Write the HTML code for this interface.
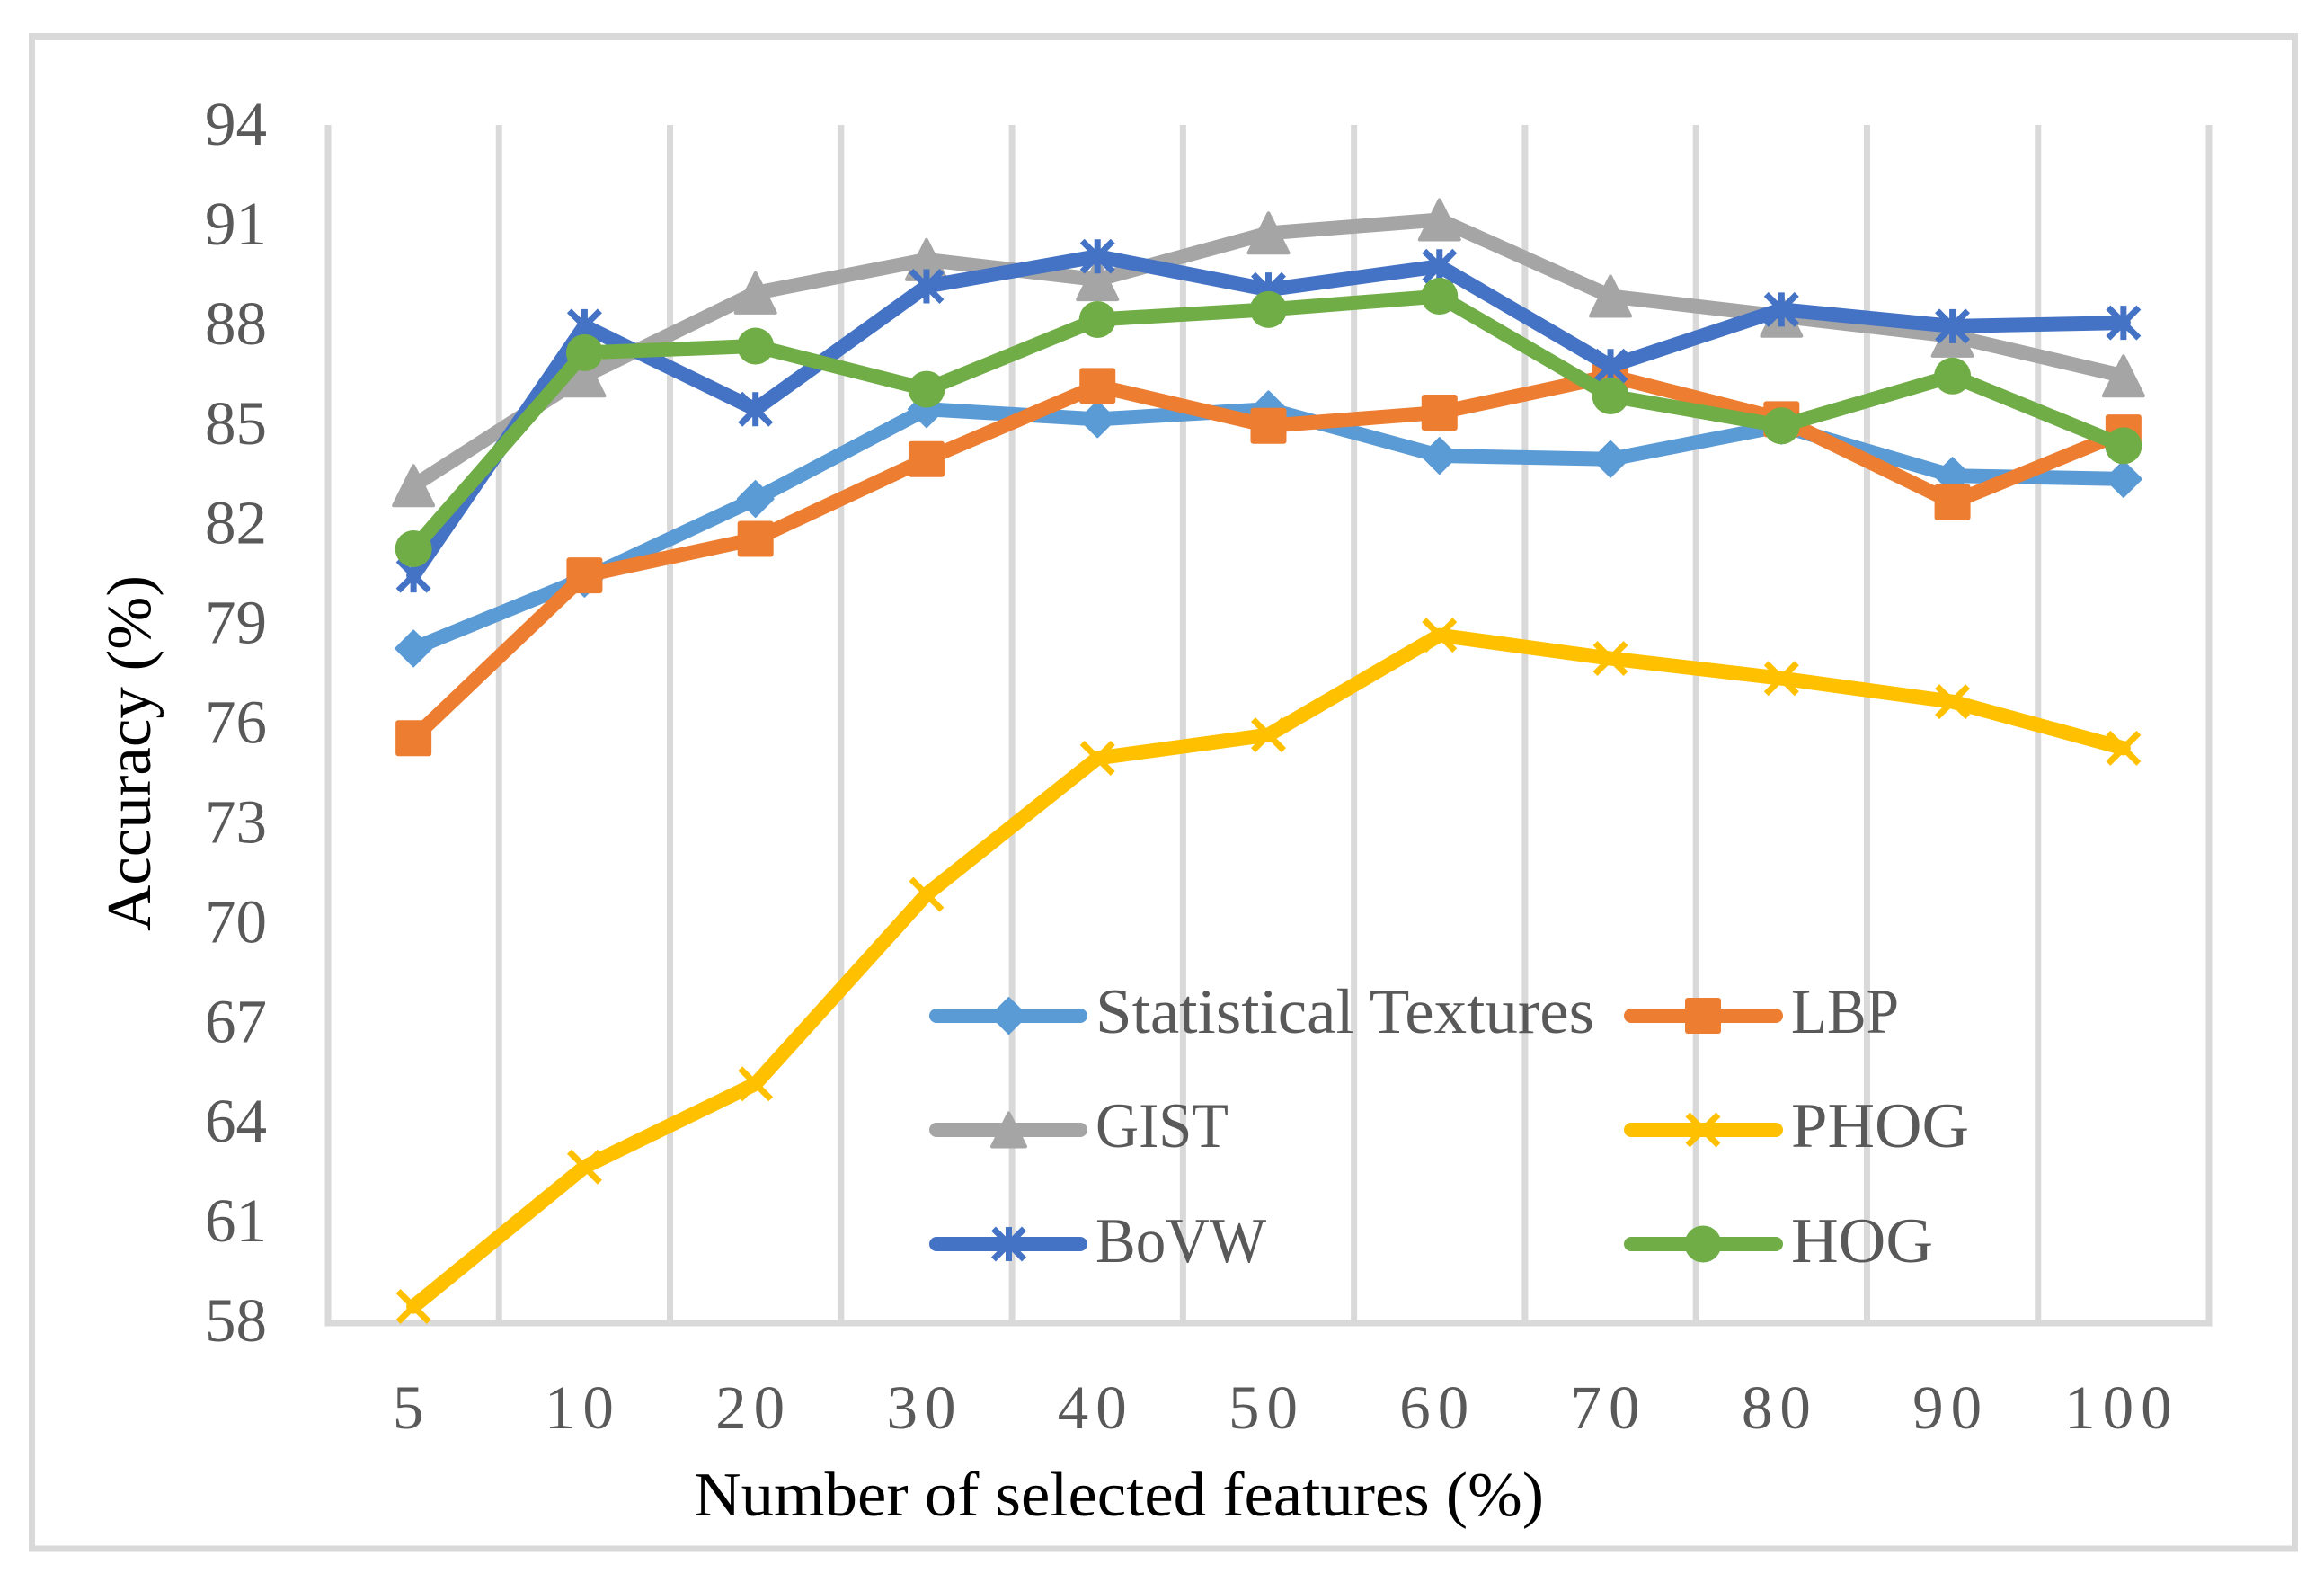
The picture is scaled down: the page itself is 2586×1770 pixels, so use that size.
<!DOCTYPE html>
<html lang="en">
<head>
<meta charset="utf-8">
<title>Accuracy vs number of selected features</title>
<style>
html,body{margin:0;padding:0;background:#fff;}
svg{display:block;}
text{font-family:"Liberation Serif",serif;}
</style>
</head>
<body>
<svg id="chart" xmlns="http://www.w3.org/2000/svg" width="2586" height="1770" viewBox="0 0 2586 1770">
  <rect x="0" y="0" width="2586" height="1770" fill="#ffffff"/>
  <rect x="35.5" y="40.5" width="2518" height="1682.5" fill="none" stroke="#d9d9d9" stroke-width="7"/>
  <g id="grid"></g>
  <g id="ticks"></g>
  <text transform="translate(167,838) rotate(-90)" text-anchor="middle" font-size="70" fill="#000000" textLength="396" lengthAdjust="spacingAndGlyphs">Accuracy (%)</text>
  <text x="1245" y="1686" text-anchor="middle" font-size="70" fill="#000000" textLength="946" lengthAdjust="spacingAndGlyphs">Number of selected features (%)</text>
  <g id="series"></g>
  <g id="legend"></g>
</svg>
<script>
const categories = ['5','10','20','30','40','50','60','70','80','90','100'];
const yTicks = [58,61,64,67,70,73,76,79,82,85,88,91,94];
const statistical = [78.3,80.4,82.8,85.5,85.2,85.5,84.1,84.0,85.0,83.5,83.4];
const lbp = [75.6,80.5,81.6,84.0,86.2,85.0,85.4,86.5,85.2,82.7,84.8];
const gist = [83.2,86.5,89.0,90.0,89.4,90.8,91.2,88.9,88.3,87.7,86.5];
const phog = [58.5,62.7,65.2,70.9,75.0,75.7,78.7,78.0,77.4,76.7,75.3];
const bovw = [80.5,88.0,85.5,89.2,90.1,89.1,89.8,86.8,88.5,88.0,88.1];
const hog = [81.3,87.2,87.4,86.1,88.2,88.5,88.9,85.9,85.0,86.5,84.4];

const NS = 'http://www.w3.org/2000/svg';
const plot = {left:365, right:2458, gridTop:139, top:141, bottom:1472};
const yMin = 58, yMax = 94;
function xAt(i){ return plot.left + (plot.right-plot.left)*(i+0.5)/categories.length; }
function yAt(v){ return plot.bottom - (v-yMin)*(plot.bottom-plot.top)/(yMax-yMin); }
function make(tag, attrs, parent){
  const e = document.createElementNS(NS, tag);
  for (const k in attrs) e.setAttribute(k, attrs[k]);
  parent.appendChild(e);
  return e;
}

const gridG = document.getElementById('grid');
for (let i=0;i<=categories.length;i++){
  const x = plot.left + (plot.right-plot.left)*i/categories.length;
  const gl = make('line',{x1:x,x2:x,y1:plot.gridTop,y2:plot.bottom,stroke:'#d9d9d9','stroke-width':7},gridG);
  
  
}
const xAxis = make('line',{x1:plot.left-3.5,x2:plot.right+3.5,y1:plot.bottom,y2:plot.bottom,stroke:'#d9d9d9','stroke-width':7},gridG);



const ticksG = document.getElementById('ticks');
yTicks.forEach(function(v){
  const t = make('text',{x:297,y:yAt(v)+20,'text-anchor':'end','font-size':69,fill:'#595959'},ticksG);
  t.textContent = String(v);
  
  
});
categories.forEach(function(c,i){
  const t = make('text',{x:xAt(i)-2,y:1589,'text-anchor':'middle','font-size':69,'letter-spacing':8,fill:'#595959'},ticksG);
  t.textContent = c;
  
  
});

function marker(kind, x, y, color, parent, triHalf){
  let m;
  if (kind==='diamond'){
    m = make('polygon',{points:[x,y-20,x+20,y,x,y+20,x-20,y].join(' '),fill:color,stroke:color,'stroke-width':2,'stroke-linejoin':'round'},parent);
  } else if (kind==='square'){
    m = make('rect',{x:x-20,y:y-20,width:40,height:40,rx:3,fill:color},parent);
  } else if (kind==='triangle'){
    m = make('polygon',{points:[x,y-triHalf,x+triHalf,y+triHalf,x-triHalf,y+triHalf].join(' '),fill:color,stroke:color,'stroke-width':4,'stroke-linejoin':'round'},parent);
  } else if (kind==='circle'){
    m = make('circle',{cx:x,cy:y,r:20.5,fill:color},parent);
  } else {
    const s = 17;
    let d = 'M'+(x-s)+' '+(y-s)+'L'+(x+s)+' '+(y+s)+'M'+(x+s)+' '+(y-s)+'L'+(x-s)+' '+(y+s);
    if (kind==='star') d += 'M'+x+' '+(y-19)+'L'+x+' '+(y+19);
    m = make('path',{d:d,fill:'none',stroke:color,'stroke-width':7},parent);
  }
  return m;
}

const seriesG = document.getElementById('series');
function drawSeries(name, values, color, kind){
  const g = make('g',{},seriesG);
  
  
  const pts = values.map(function(v,i){ return xAt(i)+','+yAt(v); }).join(' ');
  const line = make('polyline',{points:pts,fill:'none',stroke:color,'stroke-width':16,'stroke-linecap':'round','stroke-linejoin':'round'},g);
  
  
  values.forEach(function(v,i){
    const m = marker(kind, xAt(i), yAt(v), color, g, 22);
    
    
  });
}
drawSeries('statistical-textures', statistical, '#5b9bd5', 'diamond');
drawSeries('lbp', lbp, '#ed7d31', 'square');
drawSeries('gist', gist, '#a5a5a5', 'triangle');
drawSeries('phog', phog, '#ffc000', 'x');
drawSeries('bovw', bovw, '#4472c4', 'star');
drawSeries('hog', hog, '#70ad47', 'circle');

const legendG = document.getElementById('legend');
function legendEntry(label, color, kind, x1, x2, mx, tx, yLine, yText, width){
  const g = make('g',{},legendG);
  
  
  make('line',{x1:x1,x2:x2,y1:yLine,y2:yLine,stroke:color,'stroke-width':16,'stroke-linecap':'round'},g);
  marker(kind, mx, yLine, color, g, 18.5);
  const t = make('text',{x:tx,y:yText,'font-size':71,fill:'#595959',textLength:width,lengthAdjust:'spacingAndGlyphs'},g);
  t.textContent = label;
}
legendEntry('Statistical Textures','#5b9bd5','diamond',1042,1202,1122.5,1219,1130,1149,555);
legendEntry('LBP','#ed7d31','square',1815,1976,1895,1993,1130,1149,120);
legendEntry('GIST','#a5a5a5','triangle',1042,1202,1122.5,1219,1257,1276,148);
legendEntry('PHOG','#ffc000','x',1815,1976,1895,1993,1257,1276,198);
legendEntry('BoVW','#4472c4','star',1042,1202,1122.5,1219,1384,1404,190);
legendEntry('HOG','#70ad47','circle',1815,1976,1895,1993,1384,1404,158);
</script>
</body>
</html>
